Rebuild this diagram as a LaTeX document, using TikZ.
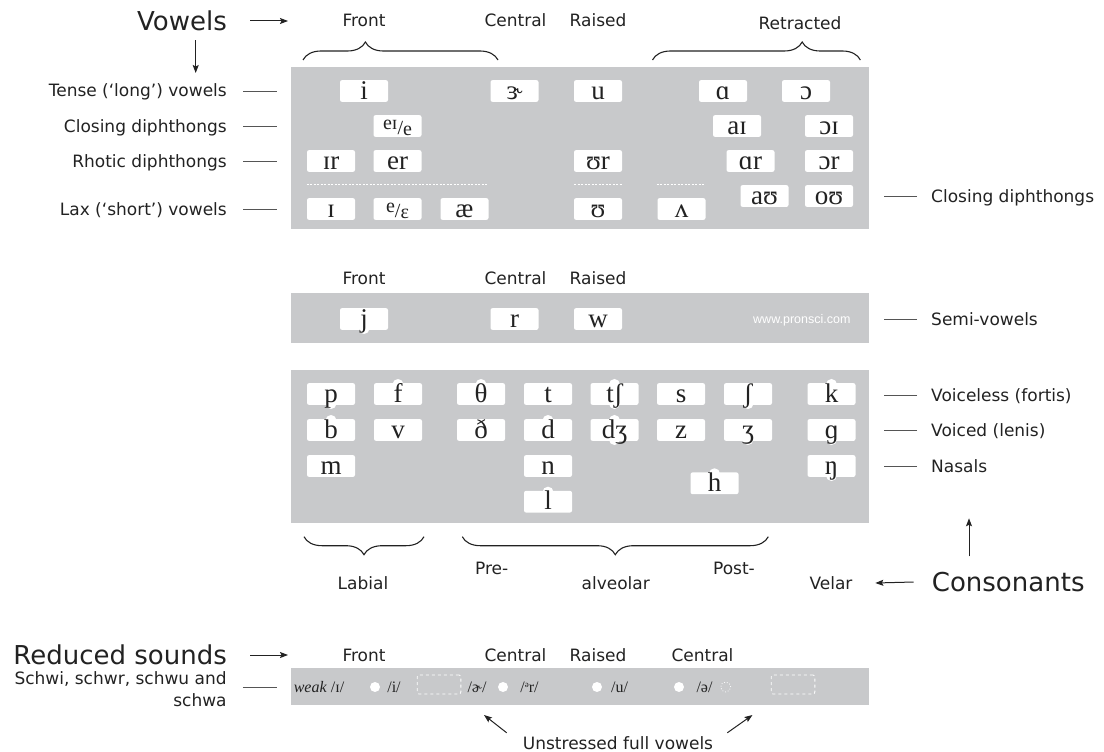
\documentclass[tikz,border=0pt]{standalone}
\usepackage{fontspec}
\setmainfont{DejaVu Sans}
\newfontfamily\ipafont{Liberation Serif}
\newfontfamily\webfont{Liberation Sans}
\usepackage{xcolor}
\usepackage{tikz}
\usetikzlibrary{arrows.meta,calc,backgrounds,decorations.pathreplacing}
\definecolor{pronInk}{HTML}{222222}
\definecolor{pronMuted}{HTML}{555555}
\definecolor{pronPanel}{HTML}{C8C9CB}
\newcommand{\lblsize}{\fontsize{17pt}{22pt}\selectfont}
\newcommand{\bigsize}{\fontsize{26pt}{30pt}\selectfont}
\newcommand{\ipasize}{\ipafont\fontsize{27pt}{30pt}\selectfont}
\newcommand{\stripsize}{\ipafont\fontsize{16pt}{18pt}\selectfont}
\newcommand{\splitipa}[2]{{\fontsize{20pt}{22pt}\selectfont\raisebox{5pt}{#1}/\raisebox{-1pt}{#2}}}
\tikzset{
  pronlbltext/.style={font=\lblsize, text=pronInk, inner sep=0pt},
  pronlbl/.style={pronlbltext, text height=12pt, text depth=0pt},
  pronbig/.style={font=\bigsize, text=pronInk, inner sep=0pt, text height=19pt, text depth=0pt},
  pronpanel/.style={fill=pronPanel},
  ipacell/.style={fill=white, rounded corners=2pt, inner sep=0pt, minimum width=48pt,
                  text height=19pt, text depth=2.7pt, font=\ipasize, text=pronInk},
  pronbump/.style={fill=white},
  pronrule/.style={draw=pronMuted, line width=0.9pt},
  pronarr/.style={-{Stealth[length=8pt,width=6pt,inset=1.5pt]}, line width=1pt, draw=pronInk},
  pronbrace/.style={decorate, decoration={brace, amplitude=18pt, aspect=#1}, line width=1.1pt, draw=pronInk},
  pronbrace/.default=0.5,
  pronsep/.style={draw=white, line width=0.8pt, dash pattern=on 2pt off 1.5pt},
  pronstrip/.style={font=\stripsize, text=pronInk, inner sep=0pt},
  pronblob/.style={circle, fill=white, minimum size=10pt, inner sep=0pt},
  pronghost/.style={circle, draw=white, dotted, line width=0.8pt, minimum size=10pt, inner sep=0pt},
  pronslot/.style={draw=white, dashed, line width=0.8pt, rounded corners=2pt, minimum width=43.7pt,
                   minimum height=19pt, inner sep=0pt},
  pronweb/.style={font=\webfont\fontsize{12.5pt}{14pt}\selectfont, text=white, inner sep=0pt},
}

\begin{document}
\begin{tikzpicture}[x=1pt, y=-1pt]
  \useasboundingbox (0,0) rectangle (1104,752);

  \node[pronbig, anchor=east] (vowels) at (227,21) {Vowels};
  \coordinate (vowelsRight) at (288,21);
  \coordinate (vowelsDown) at (195.7,73);
  \draw[pronarr] ([xshift=23pt]vowels.east) -- (vowelsRight);
  \draw[pronarr] (vowels.south -| vowelsDown) ++(0,9.5) -- (vowelsDown);

  \node[pronlbl] (vFront) at (364,21) {Front};
  \node[pronlbl] (vCentral) at (515.5,21) {Central};
  \node[pronlbl] (vRaised) at (598,21) {Raised};
  \node[pronlbl] (vRetracted) at (800,24) {Retracted};
  \draw[pronbrace=0.32] (303,60) -- (498,60);
  \draw[pronbrace=0.72] (652.5,60) -- (860.4,60);

  \node[pronlbl, anchor=east] (tense) at (227,91) {Tense (‘long’) vowels};
  \node[pronlbl, anchor=east] (closingL) at (227,126) {Closing diphthongs};
  \node[pronlbl, anchor=east] (rhotic) at (227,161) {Rhotic diphthongs};
  \node[pronlbl, anchor=east] (lax) at (227,209) {Lax (‘short’) vowels};
  \draw[pronrule] ([xshift=16pt]tense.east) -- ++(34,0);
  \draw[pronrule] ([xshift=16pt]closingL.east) -- ++(34,0);
  \draw[pronrule] ([xshift=16pt]rhotic.east) -- ++(34,0);
  \draw[pronrule] ([xshift=16pt]lax.east) -- ++(34,0);

  \node[ipacell] (vi) at (364,91) {i};
  \node[ipacell] (vur) at (514.5,91) {ɝ};
  \node[ipacell] (vu) at (598,91) {u};
  \node[ipacell] (vaa) at (723,91) {ɑ};
  \node[ipacell] (voo) at (806,91) {ɔ};
  \node[ipacell] (vei) at (397.5,126) {\splitipa{eɪ}{e}};
  \node[ipacell] (vai) at (737,126) {aɪ};
  \node[ipacell] (voi) at (829,126) {ɔɪ};
  \node[ipacell] (vir) at (331,161) {ɪr};
  \node[ipacell] (ver) at (397.5,161) {er};
  \node[ipacell] (vuur) at (598,161) {ʊr};
  \node[ipacell] (vaar) at (750.5,161) {ɑr};
  \node[ipacell] (vor) at (829,161) {ɔr};
  \node[ipacell] (vau) at (764.5,196) {aʊ};
  \node[ipacell] (vou) at (829,196) {oʊ};
  \node[ipacell] (vI) at (331,209) {ɪ};
  \node[ipacell] (veps) at (397.5,209) {\splitipa{e}{ɛ}};
  \node[ipacell] (vae) at (464.5,209) {æ};
  \node[ipacell] (vuu) at (598,209) {ʊ};
  \node[ipacell] (vwedge) at (681.5,209) {ʌ};
  \draw[pronsep] (306.7,184.3) -- (488.3,184.3);
  \draw[pronsep] (574,184.3) -- (621.7,184.3);
  \draw[pronsep] (656.7,184.3) -- (705.7,184.3);

  \node[pronlbl, anchor=west] (closingR) at (931,196) {Closing diphthongs};
  \draw[pronrule] ([xshift=-14pt]closingR.west) -- ++(-33,0);

  \node[pronlbl] (sFront) at (364,278) {Front};
  \node[pronlbl] (sCentral) at (515.5,278) {Central};
  \node[pronlbl] (sRaised) at (598,278) {Raised};
  \node[ipacell] (sj) at (364,319) {j};
  \node[ipacell] (sr) at (514.5,319) {r};
  \node[ipacell] (sw) at (598,319) {w};
  \node[pronweb, anchor=west] (site) at (753,320) {www.pronsci.com};
  \node[pronlbl, anchor=west] (semi) at (931,319) {Semi-vowels};
  \draw[pronrule] ([xshift=-14pt]semi.west) -- ++(-33,0);

  \node[ipacell] (cp) at (331,394) {p};
  \node[ipacell] (cf) at (398,394) {f};
  \node[ipacell] (cth) at (481,394) {θ};
  \node[ipacell] (ct) at (548,394) {t};
  \node[ipacell] (ctsh) at (614.5,394) {tʃ};
  \node[ipacell] (cs) at (681,394) {s};
  \node[ipacell] (csh) at (748,394) {ʃ};
  \node[ipacell] (ck) at (831.5,394) {k};
  \node[ipacell] (cb) at (331,430) {b};
  \node[ipacell] (cv) at (398,430) {v};
  \node[ipacell] (cdh) at (481,430) {ð};
  \node[ipacell] (cd) at (548,430) {d};
  \node[ipacell] (cdzh) at (614.5,430) {dʒ};
  \node[ipacell] (cz) at (681,430) {z};
  \node[ipacell] (czh) at (748,430) {ʒ};
  \node[ipacell] (cg) at (831.5,430) {ɡ};
  \node[ipacell] (cm) at (331,466) {m};
  \node[ipacell] (cn) at (548,466) {n};
  \node[ipacell] (cng) at (831.5,466) {ŋ};
  \node[ipacell] (ch) at (714.5,483.3) {h};
  \node[ipacell] (cl) at (548,501.7) {l};

  \node[pronlbl, anchor=west] (fortis) at (931,395) {Voiceless (fortis)};
  \node[pronlbl, anchor=west] (lenis) at (931,430.7) {Voiced (lenis)};
  \node[pronlbl, anchor=west] (nasals) at (931,466) {Nasals};
  \draw[pronrule] ([xshift=-14pt]fortis.west) -- ++(-33,0);
  \draw[pronrule] ([xshift=-14pt]lenis.west) -- ++(-33,0);
  \draw[pronrule] ([xshift=-14pt]nasals.west) -- ++(-33,0);

  \draw[pronbrace] (424,536.7) -- (304,536.7);
  \draw[pronbrace] (768.3,536.7) -- (462.3,536.7);
  \node[pronlbl] (labial) at (363,583) {Labial};
  \node[pronlbl] (pre) at (491.7,568.3) {Pre-};
  \node[pronlbl] (alveolar) at (615.7,583.3) {alveolar};
  \node[pronlbl] (post) at (734,568.3) {Post-};
  \node[pronlbl] (velar) at (831,583) {Velar};
  \node[pronbig, anchor=west] (consonants) at (931.7,582) {Consonants};
  \coordinate (consUp) at (969,518.3);
  \draw[pronarr] ([xshift=-18pt]consonants.west) -- ([xshift=22.7pt]velar.east);
  \draw[pronarr] (consonants.north -| consUp) ++(0,-16) -- (consUp);

  \node[pronbig, anchor=east] (reduced) at (227,655) {Reduced sounds};
  \coordinate (reducedRight) at (288,655);
  \draw[pronarr] ([xshift=23pt]reduced.east) -- (reducedRight);
  \node[pronlbl] (rFront) at (364,655) {Front};
  \node[pronlbl] (rCentral) at (515.5,655) {Central};
  \node[pronlbl] (rRaised) at (598,655) {Raised};
  \node[pronlbl] (rCentralB) at (702.5,655) {Central};
  \node[pronlbltext, anchor=east, align=right] (schwas) at (226.8,689) {Schwi, schwr, schwu and\\schwa};
  \draw[pronrule] ([xshift=16pt]schwas.east) ++(0,-2) -- ++(34,0);

  \node[pronstrip] (weakI) at (319,687) {\textit{weak} /ɪ/};
  \node[pronblob] (dotA) at (375,687) {};
  \node[pronstrip] (longI) at (394,687) {/i/};
  \node[pronslot] (slotA) at (439,684.5) {};
  \node[pronstrip] (schwr) at (477,687) {/ɚ/};
  \node[pronblob] (dotB) at (503,687) {};
  \node[pronstrip] (schwrB) at (529.5,687) {/\raisebox{5pt}{\fontsize{9pt}{9pt}\selectfont ə}r/};
  \node[pronblob] (dotC) at (597,687) {};
  \node[pronstrip] (longU) at (619.5,687) {/u/};
  \node[pronblob] (dotD) at (679,687) {};
  \node[pronstrip] (schwa) at (704.5,687) {/ə/};
  \node[pronghost] (dotE) at (725.7,687) {};
  \node[pronslot] (slotB) at (793,684.5) {};

  \node[pronlbl] (unstressed) at (618,743) {Unstressed full vowels};
  \coordinate (toCentral) at (484,715);
  \coordinate (toRetracted) at (752.5,715);
  \draw[pronarr] (unstressed.north west) ++(-16,-4) -- (toCentral);
  \draw[pronarr] (unstressed.north east) ++(14,-4) -- (toRetracted);

  \begin{pgfonlayer}{background}
    \fill[pronpanel] (290.7,66.7) rectangle (869,229.3);
    \fill[pronpanel] (290.7,293.3) rectangle (869,343.3);
    \fill[pronpanel] (290.7,370) rectangle (869,523.3);
    \fill[pronpanel] (290.7,668) rectangle (869,705);
    \fill[pronbump] ([yshift=1.5pt]sj.south) circle (5.5pt);
    \fill[pronbump] ([yshift=1.5pt]cp.south) circle (5.5pt);
    \fill[pronbump] ([yshift=-1.5pt]cf.north) circle (5.5pt);
    \fill[pronbump] ([yshift=-1.5pt]cth.north) circle (5.5pt);
    \fill[pronbump] ([yshift=-1.5pt]ctsh.north) circle (5.5pt);
    \fill[pronbump] ([yshift=1.5pt]ctsh.south) circle (5.5pt);
    \fill[pronbump] ([yshift=1.5pt]csh.south) circle (5.5pt);
    \fill[pronbump] ([yshift=-1.5pt]ck.north) circle (5.5pt);
    \fill[pronbump] ([yshift=-1.5pt]cb.north) circle (5.5pt);
    \fill[pronbump] ([yshift=-1.5pt]cd.north) circle (5.5pt);
    \fill[pronbump] ([yshift=-1.5pt]cdzh.north) circle (5.5pt);
    \fill[pronbump] ([yshift=1.5pt]cdzh.south) circle (5.5pt);
    \fill[pronbump] ([yshift=1.5pt]czh.south) circle (5.5pt);
    \fill[pronbump] ([yshift=1.5pt]cg.south) circle (5.5pt);
    \fill[pronbump] ([yshift=1.5pt]cng.south) circle (5.5pt);
    \fill[pronbump] ([yshift=-1.5pt]ch.north) circle (5.5pt);
    \fill[pronbump] ([yshift=-1.5pt]cl.north) circle (5.5pt);
  \end{pgfonlayer}
\end{tikzpicture}
\end{document}
